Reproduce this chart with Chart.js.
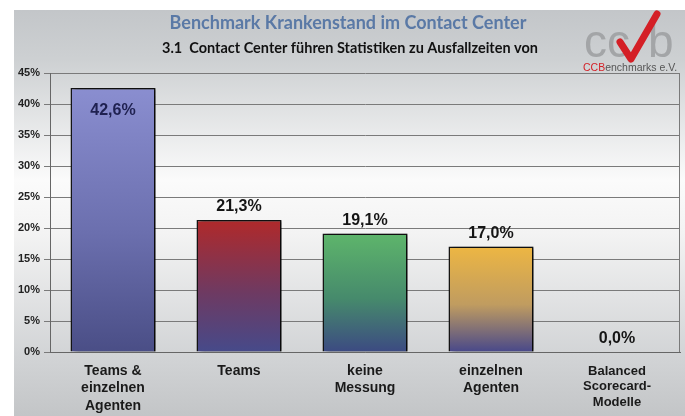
<!DOCTYPE html>
<html>
<head>
<meta charset="utf-8">
<script src="https://cdn.jsdelivr.net/npm/chart.js@4.4.0/dist/chart.umd.min.js"></script>
<style>
  html, body { margin: 0; padding: 0; background: #fff; }
  #wrap { width: 685px; height: 416px; position: relative; }
</style>
</head>
<body>
<div id="wrap"><canvas id="chart-1"></canvas></div>
<script>
const categories = [
  ['Teams &', 'einzelnen', 'Agenten'],
  ['Teams'],
  ['keine', 'Messung'],
  ['einzelnen', 'Agenten'],
  ['Balanced', 'Scorecard-', 'Modelle']
];
const shares = [42.6, 21.3, 19.1, 17.0, 0.0];
const yMax = 45;
const yStep = 5;

const topColors = ['#8a8ed0', '#b0292a', '#5eb56b', '#edb643', '#8a8ed0'];
const midColors = ['#6b6fae', '#6e3a62', '#468a6c', '#c09c60', '#6b6fae'];
const bottomColors = ['#4a4e86', '#464a8a', '#3c4a82', '#48488a', '#4a4e86'];

const chartOne = document.getElementById('chart-1');

function barFill(ctx) {
  const i = ctx.dataIndex;
  const chart = ctx.chart;
  if (!chart.chartArea) return topColors[i];
  const y = chart.scales.y;
  const top = y.getPixelForValue(shares[i]);
  const base = y.getPixelForValue(0);
  if (base - top < 1) return topColors[i];
  const g = chart.ctx.createLinearGradient(0, top, 0, base);
  g.addColorStop(0, topColors[i]);
  g.addColorStop(0.55, midColors[i]);
  g.addColorStop(1, bottomColors[i]);
  return g;
}

// panel background, titles and logo
const backdrop = {
  id: 'backdrop',
  beforeDraw(chart) {
    const c = chart.ctx;
    c.save();
    c.fillStyle = '#fff';
    c.fillRect(0, 0, chart.width, chart.height);
    const g = c.createLinearGradient(0, 10, 0, chart.height);
    g.addColorStop(0, '#c3c6c9');
    g.addColorStop(0.12, '#cdd0d2');
    g.addColorStop(0.42, '#fbfbfb');
    g.addColorStop(0.55, '#f3f3f3');
    g.addColorStop(0.85, '#d2d4d6');
    g.addColorStop(1, '#c3c5c7');
    c.fillStyle = g;
    c.fillRect(14, 10, chart.width - 14, chart.height - 10);

    c.textAlign = 'center';
    c.textBaseline = 'middle';
    c.fillStyle = '#5a79a6';
    c.font = 'bold 18px Lato';
    c.fillText('Benchmark Krankenstand im Contact Center', 348, 23, 362);
    c.fillStyle = '#111';
    c.font = 'bold 14.5px Lato';
    c.fillText('3.1  Contact Center f\u00fchren Statistiken zu Ausfallzeiten von', 350, 48, 376);

    // logo
    c.textAlign = 'left';
    c.textBaseline = 'alphabetic';
    c.fillStyle = '#a3a5a7';
    c.font = '46px "Liberation Sans"';
    c.fillText('cc', 584, 57);
    c.fillText('b', 648, 57);
    c.strokeStyle = '#d41f26';
    c.lineWidth = 7;
    c.lineCap = 'round';
    c.lineJoin = 'round';
    c.beginPath();
    c.moveTo(620, 42);
    c.lineTo(631, 59);
    c.lineTo(657, 14);
    c.stroke();
    c.font = '10.5px "Liberation Sans"';
    c.fillStyle = '#d41f26';
    c.fillText('CCB', 583, 71);
    const w = c.measureText('CCB').width;
    c.fillStyle = '#555';
    c.fillText('enchmarks e.V.', 583 + w, 71);
    c.restore();
  },
  afterDraw(chart) {
    const a = chart.chartArea;
    const c = chart.ctx;
    c.save();
    c.strokeStyle = '#7a7a7a';
    c.lineWidth = 1;
    c.beginPath();
    c.moveTo(a.right - 0.5, a.top);
    c.lineTo(a.right - 0.5, a.bottom);
    c.stroke();
    c.restore();
  }
};

// drop shadow on the bars and value labels
const barLabels = {
  id: 'barLabels',
  beforeDatasetsDraw(chart) {
    const c = chart.ctx;
    c.save();
    c.shadowColor = 'rgba(0,0,0,0.6)';
    c.shadowOffsetX = 4;
    c.shadowOffsetY = 1;
    c.shadowBlur = 3;
  },
  afterDatasetsDraw(chart) {
    const c = chart.ctx;
    c.restore();
    c.save();
    c.textAlign = 'center';
    c.textBaseline = 'middle';
    c.font = 'bold 16px "Liberation Sans"';
    chart.getDatasetMeta(0).data.forEach((bar, i) => {
      const txt = shares[i].toFixed(1).replace('.', ',') + '%';
      if (shares[i] / yMax > 0.85) {
        c.fillStyle = '#1f2150';
        c.fillText(txt, bar.x, bar.y + 23);
      } else {
        c.fillStyle = '#151515';
        c.fillText(txt, bar.x, bar.y - 13);
      }
    });
    c.restore();
  }
};

new Chart(chartOne, {
  type: 'bar',
  data: {
    labels: categories,
    datasets: [{
      data: shares,
      backgroundColor: barFill,
      borderColor: '#111',
      borderWidth: 1.5,
      borderSkipped: 'bottom',
      barPercentage: 0.675,
      categoryPercentage: 1
    }]
  },
  options: {
    responsive: true,
    maintainAspectRatio: false,
    animation: false,
    layout: { padding: { top: 73, right: 5, left: 0, bottom: 0 } },
    plugins: {
      legend: { display: false },
      tooltip: { enabled: false }
    },
    scales: {
      x: {
        grid: { display: false },
        border: { color: '#666' },
        ticks: {
          color: '#1a1a1a',
          padding: 3,
          maxRotation: 0,
          autoSkip: false,
          font: (ctx) => ({
            family: '"Liberation Sans"',
            weight: 'bold',
            size: ctx.index === 4 ? 13 : 14,
            lineHeight: 1.22
          })
        },
        afterFit(scale) { scale.height = 64; }
      },
      y: {
        min: 0,
        max: yMax,
        ticks: {
          stepSize: yStep,
          color: '#222',
          padding: 4,
          font: { family: '"Liberation Sans"', weight: 'bold', size: 11 },
          callback: (v) => v + '%'
        },
        grid: { color: '#7a7a7a', tickLength: 6 },
        border: { color: '#666' },
        afterFit(scale) { scale.width = 50; }
      }
    }
  },
  plugins: [backdrop, barLabels]
});
</script>
</body>
</html>
